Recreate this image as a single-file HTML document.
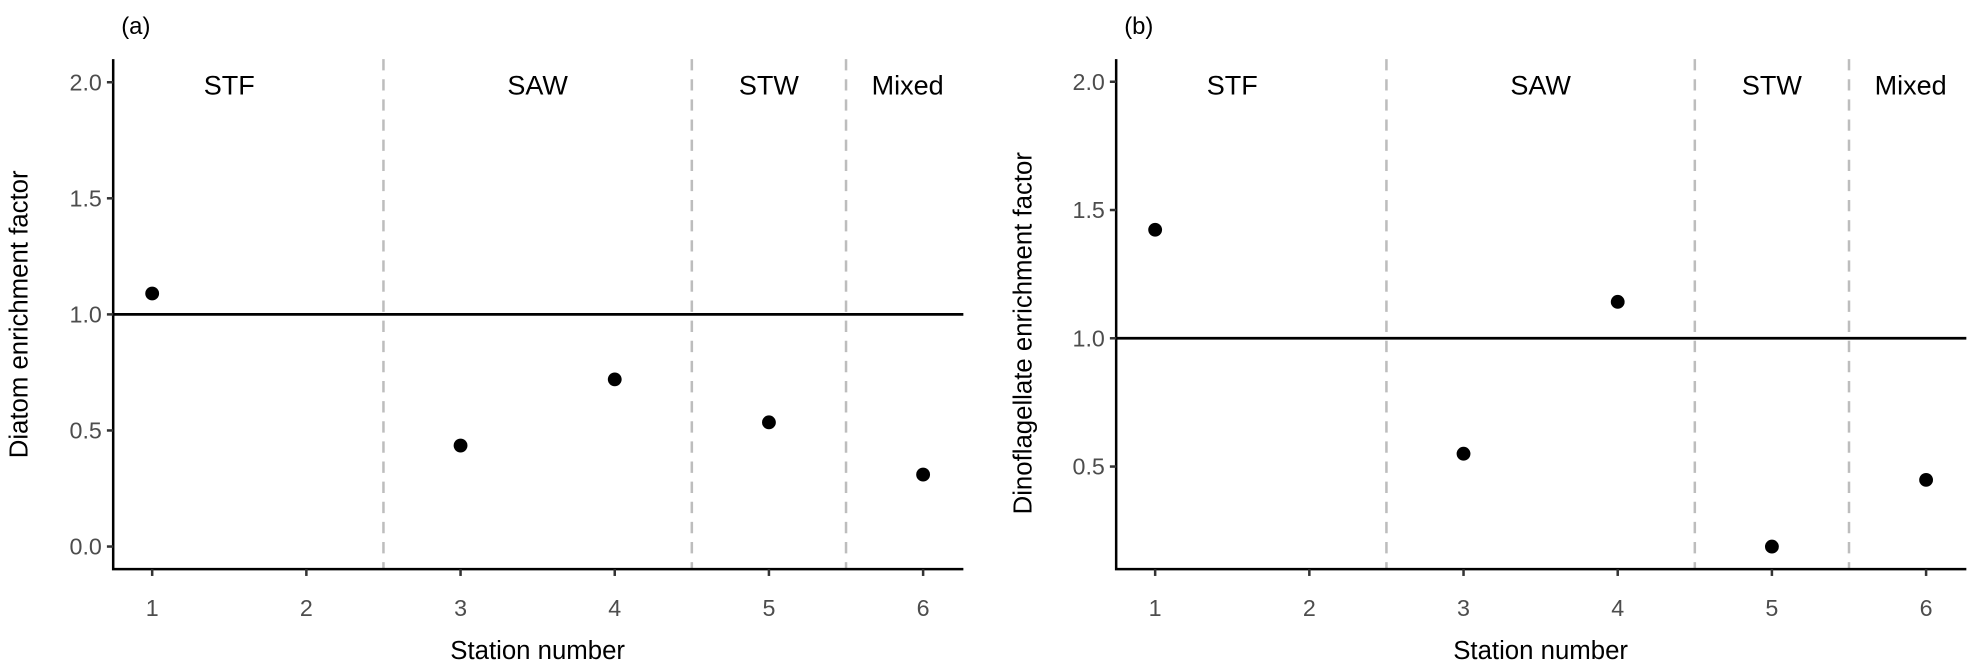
<!DOCTYPE html>
<html><head><meta charset="utf-8"><style>html,body{margin:0;padding:0;background:#fff}svg{display:block}</style></head>
<body>
<svg id="fig" width="1972" height="666" viewBox="0 0 1568 529.6" preserveAspectRatio="none" xmlns="http://www.w3.org/2000/svg" font-family="Liberation Sans, sans-serif"></svg>
<script>
const stations = [1,2,3,4,5,6];
const diatomValues = [1.09, null, 0.435, 0.72, 0.535, 0.31];
const dinoValues = [1.423, null, 0.55, 1.142, 0.188, 0.448];
const regionLabels = ["STF","SAW","STW","Mixed"];
const regionCenters = [1.5, 3.5, 5, 5.9];
const regionBounds = [2.5, 4.5, 5.5];
const yTicksA = [0.0, 0.5, 1.0, 1.5, 2.0];
const yTicksB = [0.5, 1.0, 1.5, 2.0];
const NS = "http://www.w3.org/2000/svg";
const svg = document.getElementById('fig');
function el(tag, attrs, parent, text){
  const e = document.createElementNS(NS, tag);
  for (const k in attrs) e.setAttribute(k, attrs[k]);
  if (text !== undefined) e.textContent = text;
  (parent||svg).appendChild(e); return e;
}
function panel(cfg){
  const g = el('g', {});
  
  
  const x = s => cfg.x0 + (s-1)*122.6;
  const y = v => cfg.yRef - (v - 1.0)*cfg.k;
  const L = el('text', {x: cfg.x0-13, y: 27, 'font-size': 19, 'text-anchor':'middle'}, g, cfg.tag);
  
  
  regionBounds.forEach(b => {
    const d = el('line', {x1:x(b), x2:x(b), y1:47, y2:452.6, stroke:'#bdbdbd', 'stroke-width':2, 'stroke-dasharray':'9,7'}, g);
    
    
  });
  regionLabels.forEach((r,i) => {
    const t = el('text', {x:x(regionCenters[i]), y:75, 'font-size':21.5, 'text-anchor':'middle'}, g, r);
    
    
  });
  const ref = el('line', {x1:cfg.x0-31, x2:cfg.x0+645, y1:y(1), y2:y(1), stroke:'#000', 'stroke-width':2.2}, g);
  
  
  const ax = el('path', {d:`M${cfg.x0-31} 47 V452.6 H${cfg.x0+645}`, fill:'none', stroke:'#000', 'stroke-width':2}, g);
  
  
  cfg.ticks.forEach(v => {
    el('line', {x1:cfg.x0-36, x2:cfg.x0-31, y1:y(v), y2:y(v), stroke:'#333', 'stroke-width':2}, g);
    const t = el('text', {x:cfg.x0-40, y:y(v)+6.5, 'font-size':18.5, fill:'#4d4d4d', 'text-anchor':'end'}, g, v.toFixed(1));
    
    
  });
  stations.forEach(s => {
    el('line', {x1:x(s), x2:x(s), y1:452.6, y2:458, stroke:'#333', 'stroke-width':2}, g);
    const t = el('text', {x:x(s), y:490, 'font-size':18.5, fill:'#4d4d4d', 'text-anchor':'middle'}, g, String(s));
    
    
  });
  cfg.values.forEach((v,i) => {
    if (v === null) return;
    const c = el('circle', {cx:x(stations[i]), cy:y(v), r:5.5, fill:'#000'}, g);
    
    
  });
  const xt = el('text', {x:x(3.5), y:524, 'font-size':20.5, 'text-anchor':'middle'}, g, 'Station number');
  
  
  const yt = el('text', {x:0, y:0, 'font-size':20.5, 'text-anchor':'middle', transform:`translate(${cfg.ytx},${cfg.yty}) rotate(-90)`}, g, cfg.ytitle);
  
  
}
panel({name:'panel-a', tag:'(a)', x0:121, yRef:250, k:184.6, ticks:yTicksA, values:diatomValues, ytitle:'Diatom enrichment factor', ytx:22, yty:250});
panel({name:'panel-b', tag:'(b)', x0:918.5, yRef:269, k:204, ticks:yTicksB, values:dinoValues, ytitle:'Dinoflagellate enrichment factor', ytx:820, yty:265});
</script>
</body></html>
